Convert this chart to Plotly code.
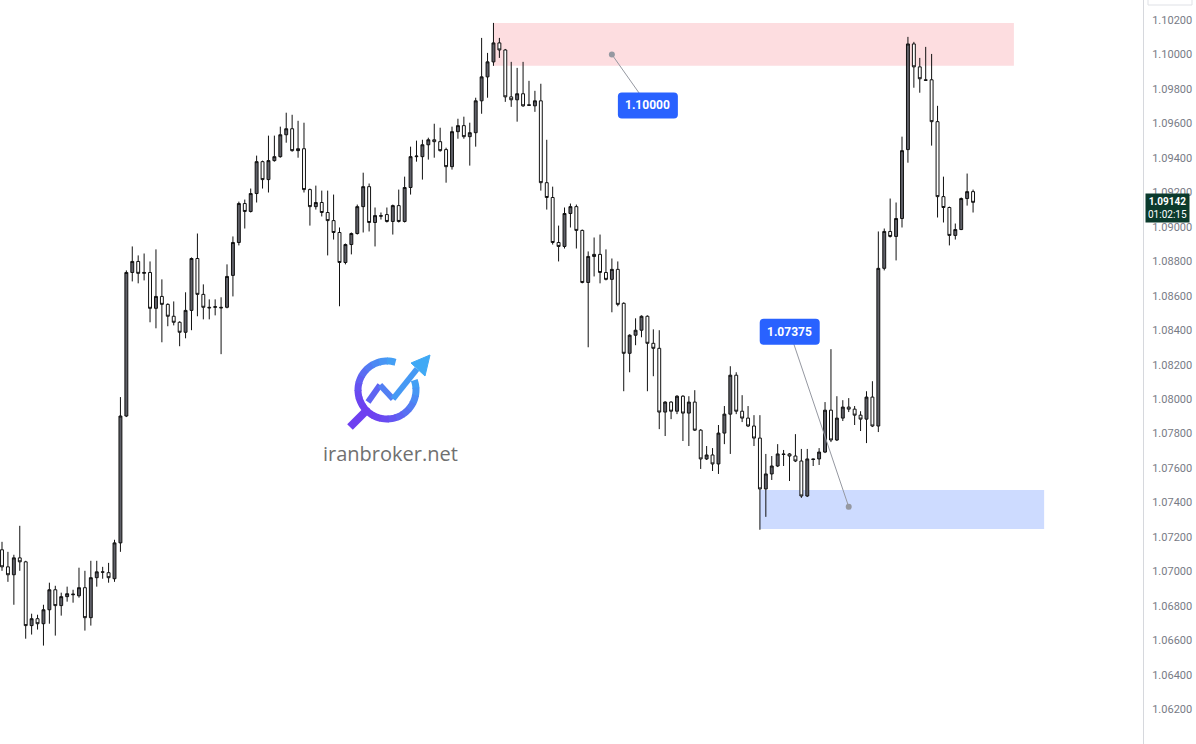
import math
import plotly.graph_objects as go

# ---------------- data ----------------
opens = [
    1.07126, 1.07027, 1.06981, 1.07079, 1.07056, 1.06686, 1.06726, 1.06697, 1.06778, 1.06894,
    1.06802, 1.06854, 1.06865, 1.06859, 1.06906, 1.06732, 1.06964, 1.06998, 1.06993, 1.06958,
    1.07166, 1.07902, 1.08735, 1.08799, 1.08730, 1.08735, 1.08527, 1.08596, 1.08550, 1.08481,
    1.08446, 1.08388, 1.08515, 1.08816, 1.08608, 1.08533, 1.08533, 1.08533, 1.08533, 1.08718,
    1.08909, 1.09135, 1.09089, 1.09193, 1.09378, 1.09274, 1.09384, 1.09407, 1.09534, 1.09569,
    1.09442, 1.09453, 1.09216, 1.09117, 1.09141, 1.09083, 1.09036, 1.08967, 1.08793, 1.08897,
    1.08961, 1.09117, 1.09233, 1.09025, 1.09065, 1.09071, 1.09031, 1.09123, 1.09031, 1.09228,
    1.09407, 1.09407, 1.09476, 1.09505, 1.09494, 1.09448, 1.09349, 1.09552, 1.09587, 1.09523,
    1.09546, 1.09731, 1.09870, 1.09957, 1.10067, 1.10026, 1.09754, 1.09737, 1.09772, 1.09708,
    1.09702, 1.09731, 1.09256, 1.09170, 1.08909, 1.08886, 1.09077, 1.09117, 1.08979, 1.08677,
    1.08828, 1.08840, 1.08735, 1.08695, 1.08753, 1.08556, 1.08266, 1.08371, 1.08400, 1.08481,
    1.08324, 1.08295, 1.07925, 1.07983, 1.07930, 1.08017, 1.07919, 1.07983, 1.07820, 1.07653,
    1.07676, 1.07624, 1.07803, 1.07913, 1.08139, 1.07930, 1.07890, 1.07844, 1.07774, 1.07479,
    1.07566, 1.07612, 1.07682, 1.07682, 1.07670, 1.07641, 1.07438, 1.07653, 1.07653, 1.07693,
    1.07936, 1.07763, 1.07890, 1.07954, 1.07942, 1.07907, 1.07884, 1.08012, 1.07844, 1.08759,
    1.08973, 1.08944, 1.09048, 1.09448, 1.10061, 1.09928, 1.09853, 1.09853, 1.09610, 1.09175,
    1.09112, 1.08950, 1.08984, 1.09164, 1.09204,
]
highs = [
    1.07172, 1.07114, 1.07097, 1.07265, 1.07062, 1.06755, 1.06749, 1.06807, 1.06935, 1.06917,
    1.06877, 1.06912, 1.06894, 1.07022, 1.07004, 1.07062, 1.07062, 1.07027, 1.07050, 1.07184,
    1.08012, 1.08747, 1.08886, 1.08834, 1.08845, 1.08799, 1.08869, 1.08695, 1.08556, 1.08567,
    1.08452, 1.08620, 1.08822, 1.08961, 1.08666, 1.08579, 1.08579, 1.08591, 1.08782, 1.08944,
    1.09146, 1.09158, 1.09222, 1.09413, 1.09384, 1.09529, 1.09529, 1.09581, 1.09662, 1.09650,
    1.09615, 1.09604, 1.09222, 1.09239, 1.09210, 1.09210, 1.09187, 1.08996, 1.08903, 1.08967,
    1.09129, 1.09314, 1.09251, 1.09112, 1.09083, 1.09112, 1.09129, 1.09216, 1.09291, 1.09465,
    1.09500, 1.09505, 1.09517, 1.09598, 1.09575, 1.09459, 1.09581, 1.09627, 1.09639, 1.09604,
    1.09749, 1.10096, 1.10009, 1.10183, 1.10096, 1.10032, 1.09957, 1.09922, 1.09957, 1.09847,
    1.09789, 1.09830, 1.09505, 1.09233, 1.09007, 1.09112, 1.09135, 1.09129, 1.08984, 1.08857,
    1.08938, 1.08955, 1.08869, 1.08816, 1.08799, 1.08562, 1.08376, 1.08469, 1.08486, 1.08486,
    1.08405, 1.08400, 1.07988, 1.07988, 1.08023, 1.08023, 1.08017, 1.08052, 1.07826, 1.07728,
    1.07716, 1.07850, 1.07960, 1.08191, 1.08156, 1.08023, 1.07960, 1.07907, 1.07907, 1.07682,
    1.07670, 1.07739, 1.07705, 1.07687, 1.07797, 1.07711, 1.07711, 1.07655, 1.07716, 1.07983,
    1.08290, 1.08017, 1.07994, 1.08006, 1.07960, 1.07930, 1.08046, 1.08104, 1.08973, 1.08990,
    1.09164, 1.09141, 1.09523, 1.10102, 1.10073, 1.09980, 1.10044, 1.10003, 1.09702, 1.09291,
    1.09117, 1.09019, 1.09170, 1.09309, 1.09216,
]
lows = [
    1.07004, 1.06940, 1.06807, 1.07004, 1.06610, 1.06634, 1.06663, 1.06570, 1.06697, 1.06628,
    1.06744, 1.06825, 1.06819, 1.06848, 1.06657, 1.06686, 1.06912, 1.06958, 1.06935, 1.06940,
    1.07114, 1.07896, 1.08683, 1.08672, 1.08689, 1.08446, 1.08411, 1.08330, 1.08423, 1.08428,
    1.08307, 1.08353, 1.08400, 1.08481, 1.08463, 1.08463, 1.08486, 1.08261, 1.08527, 1.08596,
    1.08892, 1.08990, 1.09083, 1.09141, 1.09222, 1.09199, 1.09378, 1.09401, 1.09488, 1.09436,
    1.09401, 1.09199, 1.09007, 1.09100, 1.09060, 1.08834, 1.08926, 1.08539, 1.08782, 1.08840,
    1.08955, 1.08967, 1.08973, 1.08886, 1.09042, 1.09025, 1.08955, 1.09025, 1.09025, 1.09187,
    1.09378, 1.09274, 1.09390, 1.09401, 1.09436, 1.09256, 1.09332, 1.09511, 1.09511, 1.09355,
    1.09465, 1.09656, 1.09749, 1.09934, 1.09980, 1.09725, 1.09696, 1.09610, 1.09696, 1.09702,
    1.09667, 1.09210, 1.09100, 1.08897, 1.08799, 1.08874, 1.08996, 1.08874, 1.08672, 1.08301,
    1.08712, 1.08672, 1.08689, 1.08504, 1.08539, 1.08046, 1.08156, 1.08313, 1.08359, 1.08046,
    1.08133, 1.07826, 1.07786, 1.07884, 1.07913, 1.07757, 1.07728, 1.07815, 1.07595, 1.07647,
    1.07583, 1.07566, 1.07739, 1.07682, 1.07913, 1.07867, 1.07838, 1.07728, 1.07242, 1.07317,
    1.07531, 1.07606, 1.07612, 1.07525, 1.07635, 1.07427, 1.07432, 1.07612, 1.07618, 1.07687,
    1.07751, 1.07757, 1.07873, 1.07925, 1.07850, 1.07815, 1.07745, 1.07838, 1.07809, 1.08747,
    1.08938, 1.08805, 1.08996, 1.09372, 1.09807, 1.09778, 1.09847, 1.09471, 1.09054, 1.09025,
    1.08892, 1.08926, 1.08981, 1.09123, 1.09083,
]
closes = [
    1.07027, 1.06981, 1.07079, 1.07056, 1.06686, 1.06726, 1.06697, 1.06778, 1.06894, 1.06802,
    1.06854, 1.06871, 1.06868, 1.06906, 1.06732, 1.06964, 1.06998, 1.06996, 1.06964, 1.07166,
    1.07902, 1.08735, 1.08799, 1.08730, 1.08735, 1.08527, 1.08596, 1.08550, 1.08481, 1.08446,
    1.08388, 1.08515, 1.08816, 1.08608, 1.08533, 1.08530, 1.08536, 1.08530, 1.08712, 1.08909,
    1.09135, 1.09089, 1.09193, 1.09378, 1.09274, 1.09384, 1.09407, 1.09534, 1.09569, 1.09442,
    1.09453, 1.09216, 1.09117, 1.09141, 1.09083, 1.09036, 1.08967, 1.08793, 1.08897, 1.08961,
    1.09117, 1.09233, 1.09025, 1.09065, 1.09062, 1.09031, 1.09123, 1.09031, 1.09228, 1.09407,
    1.09410, 1.09476, 1.09505, 1.09494, 1.09442, 1.09349, 1.09552, 1.09587, 1.09523, 1.09546,
    1.09731, 1.09870, 1.09957, 1.10067, 1.10026, 1.09754, 1.09737, 1.09772, 1.09702, 1.09705,
    1.09731, 1.09256, 1.09170, 1.08909, 1.08886, 1.09077, 1.09117, 1.08979, 1.08677, 1.08828,
    1.08840, 1.08735, 1.08695, 1.08753, 1.08550, 1.08266, 1.08371, 1.08400, 1.08481, 1.08324,
    1.08295, 1.07925, 1.07983, 1.07930, 1.08017, 1.07919, 1.07983, 1.07820, 1.07653, 1.07676,
    1.07624, 1.07803, 1.07913, 1.08139, 1.07930, 1.07890, 1.07844, 1.07774, 1.07479, 1.07566,
    1.07612, 1.07682, 1.07679, 1.07670, 1.07641, 1.07438, 1.07653, 1.07650, 1.07693, 1.07936,
    1.07763, 1.07890, 1.07954, 1.07942, 1.07907, 1.07884, 1.08012, 1.07844, 1.08759, 1.08973,
    1.08944, 1.09048, 1.09442, 1.10061, 1.09928, 1.09859, 1.09850, 1.09610, 1.09175, 1.09112,
    1.08950, 1.08984, 1.09164, 1.09204, 1.09142,
]
bar_index = list(range(len(opens)))

tick_labels = ["1.06000", "1.06200", "1.06400", "1.06600", "1.06800", "1.07000",
               "1.07200", "1.07400", "1.07600", "1.07800", "1.08000", "1.08200",
               "1.08400", "1.08600", "1.08800", "1.09000", "1.09200", "1.09400",
               "1.09600", "1.09800", "1.10000", "1.10200"]

# zones: (first bar, last bar, bottom price, top price)
supply_zone = (83, 170.9, 1.09934, 1.10183)
demand_zone = (128, 176.0, 1.07247, 1.07473)

# price labels on the chart
label_texts = ["1.10000", "1.07375"]
label_prices = [1.10000, 1.07375]
label_bars = [103, 143]
label_offsets_px = [(36, 51), (-59, -175)]   # box centre relative to the anchor dot

last_price_text = "1.09142"
countdown_text = "01:02:15"
watermark_text = "iranbroker.net"

# ---------------- style ----------------
FONT = "Roboto, 'Liberation Sans', Arial, sans-serif"
UP_FILL = "#5f6068"
DOWN_FILL = "#ffffff"
OUTLINE = "#111111"
AXIS_TEXT = "#787b86"
LABEL_BLUE = "#2962ff"
CONNECTOR = "#9598a1"

PLOT_W, PLOT_H = 1143, 744
X_RANGE = [-0.34, 192.7]
Y_RANGE = [1.05999, 1.10316]

fig = go.Figure()
fig.add_trace(go.Candlestick(
    x=bar_index, open=opens, high=highs, low=lows, close=closes,
    increasing=dict(fillcolor=UP_FILL, line=dict(color=OUTLINE, width=1)),
    decreasing=dict(fillcolor=DOWN_FILL, line=dict(color=OUTLINE, width=1)),
    whiskerwidth=0, hoverinfo="skip", showlegend=False,
))

shapes = []
annotations = []

# zones
shapes.append(dict(type="rect", xref="x", yref="y", layer="below",
                   x0=supply_zone[0], x1=supply_zone[1], y0=supply_zone[2], y1=supply_zone[3],
                   fillcolor="rgba(242,54,69,0.17)", line=dict(width=0)))
shapes.append(dict(type="rect", xref="x", yref="y", layer="below",
                   x0=demand_zone[0], x1=demand_zone[1], y0=demand_zone[2], y1=demand_zone[3],
                   fillcolor="rgba(41,98,255,0.23)", line=dict(width=0)))


def path_from(pts, close=False):
    s = "M " + " L ".join(f"{x:.2f},{-y:.2f}" for x, y in pts)
    return s + (" Z" if close else "")


def rounded_rect(cx, cy, w, h, r):
    x0, x1, y0, y1 = cx - w / 2, cx + w / 2, cy - h / 2, cy + h / 2
    f = lambda x, y: f"{x:.2f},{-y:.2f}"
    return (f"M {f(x0 + r, y0)} L {f(x1 - r, y0)} Q {f(x1, y0)} {f(x1, y0 + r)} "
            f"L {f(x1, y1 - r)} Q {f(x1, y1)} {f(x1 - r, y1)} L {f(x0 + r, y1)} "
            f"Q {f(x0, y1)} {f(x0, y1 - r)} L {f(x0, y0 + r)} Q {f(x0, y0)} {f(x0 + r, y0)} Z")


# price labels with connector and dot
px_per_bar = PLOT_W / (X_RANGE[1] - X_RANGE[0])
price_per_px = (Y_RANGE[1] - Y_RANGE[0]) / PLOT_H
for txt, price, bar, (dx, dy) in zip(label_texts, label_prices, label_bars, label_offsets_px):
    bx = bar + dx / px_per_bar
    by = price - dy * price_per_px
    shapes.append(dict(type="line", xref="x", yref="y", x0=bar, y0=price, x1=bx, y1=by,
                       line=dict(color=CONNECTOR, width=1)))
    shapes.append(dict(type="path", xref="x", yref="y", xsizemode="pixel", ysizemode="pixel",
                       xanchor=bx, yanchor=by, path=rounded_rect(0, 0, 60, 26, 4),
                       fillcolor=LABEL_BLUE, line=dict(width=0)))
    shapes.append(dict(type="circle", xref="x", yref="y", xsizemode="pixel", ysizemode="pixel",
                       xanchor=bar, yanchor=price, x0=-3, x1=3, y0=-3, y1=3,
                       fillcolor=CONNECTOR, line=dict(width=0)))
    annotations.append(dict(x=bx, y=by, xref="x", yref="y", text=f"<b>{txt}</b>",
                            showarrow=False, font=dict(family=FONT, size=12, color="white"),
                            xanchor="center", yanchor="middle"))

# watermark logo (magnifier ring + rising arrow)
LX, LY = 387 / PLOT_W, 1 - 390 / PLOT_H
purple = (110, 63, 240)
blue = (63, 169, 245)


def mix(t):
    c = [round(purple[i] + (blue[i] - purple[i]) * t) for i in range(3)]
    return f"rgb({c[0]},{c[1]},{c[2]})"


def logo_shape(path, color, width=0, fill=None):
    return dict(type="path", xref="paper", yref="paper", xsizemode="pixel", ysizemode="pixel",
                xanchor=LX, yanchor=LY, path=path, layer="below",
                line=dict(color=color, width=width),
                fillcolor=fill if fill else "rgba(0,0,0,0)")


R = 29
start, end = -20, 285
nseg = 20
for k in range(nseg):
    a0 = start + (end - start) * k / nseg
    a1 = start + (end - start) * (k + 1) / nseg + 2
    pts = []
    for j in range(5):
        a = math.radians(a0 + (a1 - a0) * j / 4)
        pts.append((R * math.cos(a), R * math.sin(a)))
    am = math.radians((a0 + a1) / 2)
    t = (math.cos(am) - math.sin(am)) / math.sqrt(2) / 2 + 0.5
    shapes.append(logo_shape(path_from(pts), mix(t), 7))
# handle
shapes.append(logo_shape(path_from([(-20, 20), (-37, 37)]), mix(0.0), 8))
# zigzag arrow
zig = [(-19, 12), (-7, -5), (6, 9), (30, -21)]
for k in range(len(zig) - 1):
    shapes.append(logo_shape(path_from([zig[k], zig[k + 1]]), mix(0.35 + 0.25 * k), 6))
shapes.append(logo_shape(path_from([(43, -35), (38, -14), (24, -27)], close=True),
                         mix(1.0), 1, mix(1.0)))
annotations.append(dict(x=390 / PLOT_W, y=1 - 453 / PLOT_H, xref="paper", yref="paper",
                        text=watermark_text, showarrow=False,
                        font=dict(family="'Open Sans', Roboto, sans-serif", size=20, color="#707070"),
                        xanchor="center", yanchor="middle"))

# last price tag on the axis
annotations.append(dict(x=1145 / PLOT_W, y=closes[-1], xref="paper", yref="y",
                        text=f"<b>{last_price_text}</b><br>{countdown_text}",
                        showarrow=False, xanchor="left", yanchor="middle", yshift=-6,
                        align="center", bgcolor="#0b3a2c", borderpad=2,
                        font=dict(family=FONT, size=10, color="white")))

# small control box at the top-right corner
shapes.append(dict(type="rect", xref="paper", yref="paper",
                   x0=1148 / PLOT_W, x1=1192 / PLOT_W, y0=1 - 5 / PLOT_H, y1=1.02,
                   line=dict(color="#dfe1e6", width=1), fillcolor="white"))

fig.update_layout(
    width=1196, height=744,
    margin=dict(l=0, r=1196 - PLOT_W, t=0, b=0),
    paper_bgcolor="white", plot_bgcolor="white",
    shapes=shapes, annotations=annotations,
    showlegend=False,
    xaxis=dict(range=X_RANGE, visible=False, rangeslider=dict(visible=False),
               showgrid=False, zeroline=False),
    yaxis=dict(range=Y_RANGE, side="right", showgrid=False, zeroline=False,
               tickvals=[float(t) for t in tick_labels], ticktext=tick_labels,
               tickfont=dict(family=FONT, size=11, color=AXIS_TEXT),
               ticks="outside", ticklen=6, tickcolor="rgba(0,0,0,0)",
               showline=True, linecolor="#d6d8dd", linewidth=1),
)

fig.write_html("out.html", config={"displayModeBar": False},
               post_script="document.body.style.margin='0';document.body.style.overflow='hidden';")
